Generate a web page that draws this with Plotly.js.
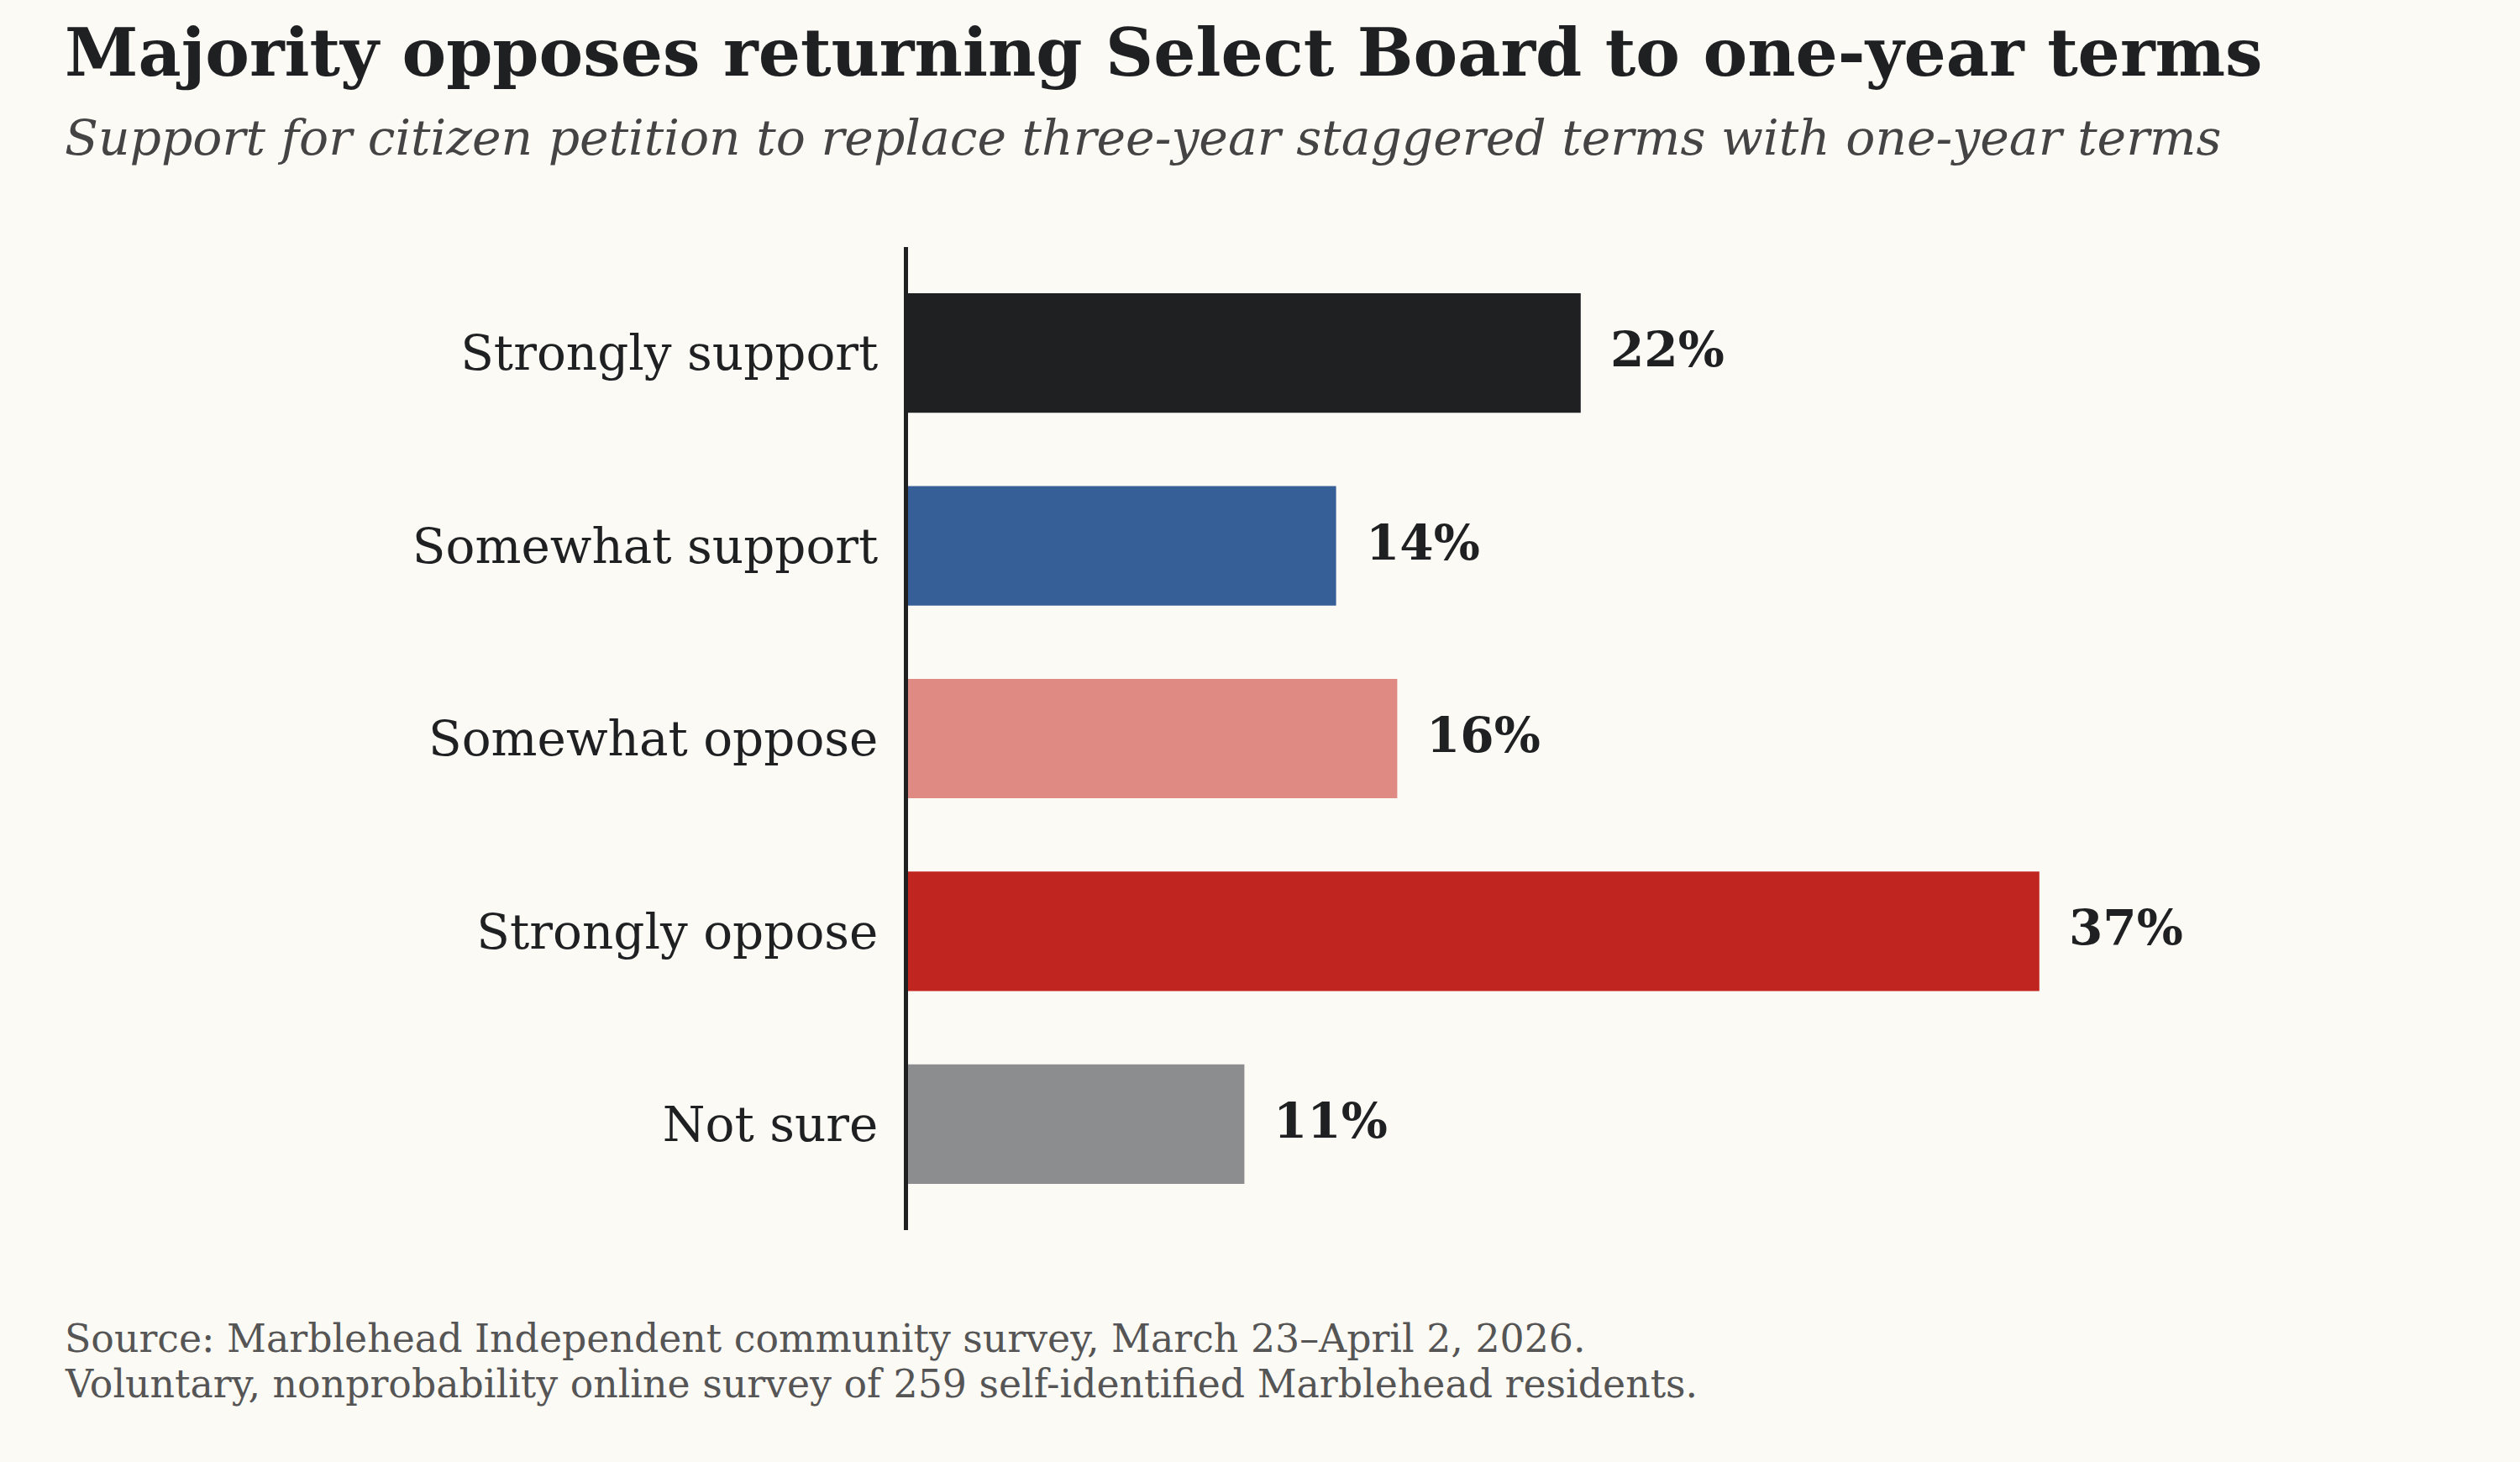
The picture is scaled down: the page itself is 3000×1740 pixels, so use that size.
<!DOCTYPE html>
<html>
<head>
<meta charset="utf-8">
<script src="https://cdn.plot.ly/plotly-3.0.1.min.js"></script>
<style>
  html, body { margin: 0; padding: 0; background: #fcfaf5; }
  #chart { width: 3000px; height: 1740px; }
</style>
</head>
<body>
<div id="chart"></div>
<script>
// ---- Data ----
const categories = ["Strongly support", "Somewhat support", "Somewhat oppose", "Strongly oppose", "Not sure"];
const values = [22, 14, 16, 37, 11];
const valueLabels = ["22%", "14%", "16%", "37%", "11%"];
const barColors = ["#1f2022", "#375f97", "#df8a82", "#c1251f", "#8c8d8f"];

const titleText = "Majority opposes returning Select Board to one-year terms";
const subtitleText = "Support for citizen petition to replace three-year staggered terms with one-year terms";
const sourceLines = [
  "Source: Marblehead Independent community survey, March 23–April 2, 2026.",
  "Voluntary, nonprobability online survey of 259 self-identified Marblehead residents."
];

// ---- Layout geometry ----
const W = 3000, H = 1740;
const M = { l: 1081, r: 99, t: 294, b: 276 };
const plotW = W - M.l - M.r, plotH = H - M.t - M.b;
const px2x = px => (px - M.l) / plotW;
const py2y = py => 1 - (py - M.t) / plotH;

const FONT = "DejaVu Serif, serif";

const trace = {
  type: "bar",
  orientation: "h",
  y: categories,
  x: values,
  width: 0.62,
  marker: { color: barColors, line: { width: 0 } },
  hoverinfo: "skip"
};

const annotations = categories.map((c, i) => ({
  x: values[i], y: c, xref: "x", yref: "y",
  text: valueLabels[i], showarrow: false,
  xanchor: "left", yanchor: "middle", xshift: 33, yshift: 4,
  font: { family: FONT, size: 58, color: "#1f2022", weight: "bold" }
}));

annotations.push({
  xref: "paper", yref: "paper", x: px2x(75), y: py2y(62),
  text: "<b>" + titleText + "</b>", showarrow: false,
  xanchor: "left", yanchor: "middle",
  font: { family: FONT, size: 79, color: "#1f2022" }
});
annotations.push({
  xref: "paper", yref: "paper", x: px2x(75), y: py2y(164),
  text: "<i>" + subtitleText + "</i>", showarrow: false,
  xanchor: "left", yanchor: "middle",
  font: { family: FONT, size: 58.4, color: "#444444" }
});
sourceLines.forEach((s, i) => {
  annotations.push({
    xref: "paper", yref: "paper", x: px2x(75), y: py2y(1593 + i * 54),
    text: s, showarrow: false,
    xanchor: "left", yanchor: "middle",
    font: { family: FONT, size: 45.8, color: "#555555" }
  });
});

const layout = {
  width: W, height: H,
  margin: M,
  paper_bgcolor: "#fcfaf5",
  plot_bgcolor: "#fcfaf5",
  showlegend: false,
  xaxis: {
    range: [0, plotW / 36.4],
    showgrid: false, zeroline: false, showticklabels: false,
    showline: false, ticks: "", fixedrange: true
  },
  yaxis: {
    type: "category",
    categoryorder: "array", categoryarray: categories,
    range: [4.55, -0.55],
    showgrid: false, zeroline: false,
    showline: true, linecolor: "#1f2022", linewidth: 5,
    ticks: "", ticklabelstandoff: 19,
    tickfont: { family: FONT, size: 58, color: "#1f2022" }
  },
  annotations: annotations
};

Plotly.newPlot("chart", [trace], layout, { displayModeBar: false, staticPlot: true });
</script>
</body>
</html>
